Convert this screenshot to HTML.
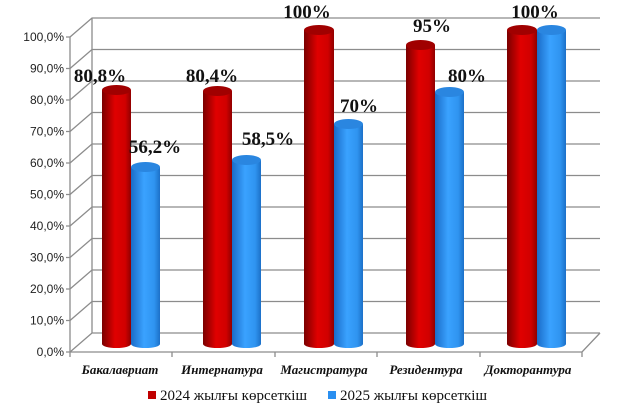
<!DOCTYPE html><html><head><meta charset="utf-8"><style>body{margin:0;background:#fff}svg{display:block}</style></head><body>
<svg width="623" height="419" xmlns="http://www.w3.org/2000/svg">
<defs>
<linearGradient id="r" x1="0" x2="1"><stop offset="0" stop-color="#7a0000"/><stop offset="0.45" stop-color="#e00000"/><stop offset="0.8" stop-color="#d00000"/><stop offset="1" stop-color="#900000"/></linearGradient>
<linearGradient id="b" x1="0" x2="1"><stop offset="0" stop-color="#1a6cc8"/><stop offset="0.45" stop-color="#3aa2ff"/><stop offset="0.8" stop-color="#2f94f0"/><stop offset="1" stop-color="#1c70c8"/></linearGradient>
</defs>
<g stroke="#8c8c8c" stroke-width="1.3" fill="none">
<path d="M70,37V352"/>
<path d="M92,18V333"/>
<path d="M70,352L92,333H600M70,320.5L92,301.5H600M70,289L92,270H600M70,257.5L92,238.5H600M70,226L92,207H600M70,194.5L92,175.5H600M70,163L92,144H600M70,131.5L92,112.5H600M70,100L92,81H600M70,68.5L92,49.5H600M70,37L92,18H600"/>
<path d="M70,352H582L600,333M70,352v5M172,352v5M275,352v5M377,352v5M480,352v5M582,352v5M66,352h4M66,320.5h4M66,289h4M66,257.5h4M66,226h4M66,194.5h4M66,163h4M66,131.5h4M66,100h4M66,68.5h4M66,37h4"/>
</g>
<g font-family="Liberation Sans, sans-serif" font-size="12" fill="#222" text-anchor="end">
<text x="64" y="356">0,0%</text><text x="64" y="324.5">10,0%</text><text x="64" y="293">20,0%</text><text x="64" y="261.5">30,0%</text><text x="64" y="230">40,0%</text><text x="64" y="198.5">50,0%</text><text x="64" y="167">60,0%</text><text x="64" y="135.5">70,0%</text><text x="64" y="104">80,0%</text><text x="64" y="72.5">90,0%</text><text x="64" y="41">100,0%</text>
</g>
<g>
<rect x="102" y="90" width="29" height="254" fill="url(#r)"/><ellipse cx="116.5" cy="344" rx="14.5" ry="4" fill="url(#r)"/><ellipse cx="116.5" cy="90" rx="14.5" ry="5" fill="#a00000"/>
<rect x="131" y="167" width="29" height="177" fill="url(#b)"/><ellipse cx="145.5" cy="344" rx="14.5" ry="4" fill="url(#b)"/><ellipse cx="145.5" cy="167" rx="14.5" ry="5" fill="#2a86e0"/>
<rect x="203" y="91" width="29" height="253" fill="url(#r)"/><ellipse cx="217.5" cy="344" rx="14.5" ry="4" fill="url(#r)"/><ellipse cx="217.5" cy="91" rx="14.5" ry="5" fill="#a00000"/>
<rect x="232" y="160" width="29" height="184" fill="url(#b)"/><ellipse cx="246.5" cy="344" rx="14.5" ry="4" fill="url(#b)"/><ellipse cx="246.5" cy="160" rx="14.5" ry="5" fill="#2a86e0"/>
<rect x="304" y="30" width="30" height="314" fill="url(#r)"/><ellipse cx="319" cy="344" rx="15" ry="4" fill="url(#r)"/><ellipse cx="319" cy="30" rx="15" ry="5" fill="#a00000"/>
<rect x="334" y="124" width="29" height="220" fill="url(#b)"/><ellipse cx="348.5" cy="344" rx="14.5" ry="4" fill="url(#b)"/><ellipse cx="348.5" cy="124" rx="14.5" ry="5" fill="#2a86e0"/>
<rect x="406" y="45" width="29" height="299" fill="url(#r)"/><ellipse cx="420.5" cy="344" rx="14.5" ry="4" fill="url(#r)"/><ellipse cx="420.5" cy="45" rx="14.5" ry="5" fill="#a00000"/>
<rect x="435" y="92" width="29" height="252" fill="url(#b)"/><ellipse cx="449.5" cy="344" rx="14.5" ry="4" fill="url(#b)"/><ellipse cx="449.5" cy="92" rx="14.5" ry="5" fill="#2a86e0"/>
<rect x="507" y="30" width="30" height="314" fill="url(#r)"/><ellipse cx="522" cy="344" rx="15" ry="4" fill="url(#r)"/><ellipse cx="522" cy="30" rx="15" ry="5" fill="#a00000"/>
<rect x="537" y="30" width="29" height="314" fill="url(#b)"/><ellipse cx="551.5" cy="344" rx="14.5" ry="4" fill="url(#b)"/><ellipse cx="551.5" cy="30" rx="14.5" ry="5" fill="#2a86e0"/>
</g>
<g font-family="Liberation Serif, serif" font-weight="bold" font-size="19" text-anchor="middle" fill="#111">
<text x="100" y="82">80,8%</text><text x="155" y="153">56,2%</text>
<text x="212" y="82">80,4%</text><text x="268" y="145">58,5%</text>
<text x="307" y="18">100%</text><text x="359" y="112">70%</text>
<text x="432" y="32">95%</text><text x="467" y="82">80%</text>
<text x="535" y="18">100%</text>
</g>
<g font-family="Liberation Serif, serif" font-weight="bold" font-style="italic" font-size="13" fill="#111" text-anchor="middle">
<text x="120" y="374">Бакалавриат</text><text x="222" y="374">Интернатура</text><text x="324" y="374">Магистратура</text><text x="426" y="374">Резидентура</text><text x="528" y="374">Докторантура</text>
</g>
<rect x="148" y="391" width="8" height="8" fill="#c00000"/>
<text x="160" y="400" font-family="Liberation Serif, serif" font-size="15" fill="#111">2024 жылғы көрсеткіш</text>
<rect x="328" y="391" width="8" height="8" fill="#2a8ff0"/>
<text x="340" y="400" font-family="Liberation Serif, serif" font-size="15" fill="#111">2025 жылғы көрсеткіш</text>
</svg>
</body></html>
